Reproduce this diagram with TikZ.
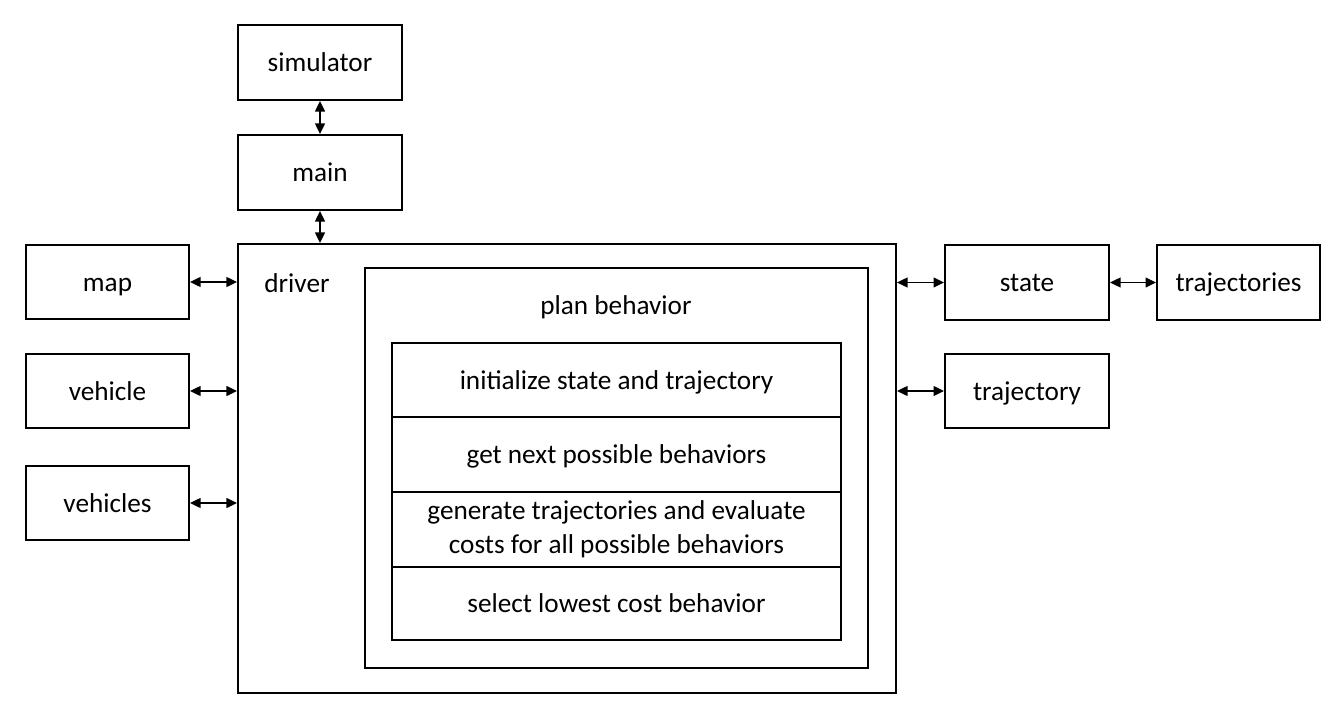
\documentclass[tikz,border=0pt]{standalone}
\usepackage{fontspec}
\setmainfont{Carlito}
\usetikzlibrary{arrows.meta}
\begin{document}
\begin{tikzpicture}[x=0.02cm,y=-0.02cm,
  every node/.style={font=\fontsize{15.5}{19.3}\selectfont},
  fixed/.style={text height=12pt,text depth=1.5pt},
  box/.style 2 args={draw,line width=1.1pt,rectangle,inner sep=0pt,minimum width=#1*0.02cm,minimum height=#2*0.02cm,align=center},
  conn/.style={line width=1.1pt,{Triangle[length=6pt,width=5.5pt]}-{Triangle[length=6pt,width=5.5pt]}}]
\useasboundingbox (0,0) rectangle (1344,719);
\node[box={164}{75},fixed] (sim) at (320,62.5) {simulator};
\node[box={164}{75},fixed] (main) at (320,172.5) {main};
\node[box={658}{449}] (driver) at (567,468.5) {};
\node[fixed] (driverlbl) at (297,283) {driver};
\node[box={163}{74},fixed] (map) at (107.5,282) {map};
\node[box={163}{74},fixed] (vehicle) at (107.5,391) {vehicle};
\node[box={163}{74},fixed] (vehicles) at (107.5,503) {vehicles};
\node[box={164}{75},fixed] (state) at (1027,282.5) {state};
\node[box={163}{75},fixed] (trajs) at (1238.5,282.5) {trajectories};
\node[box={164}{74},fixed] (traj) at (1027,391) {trajectory};
\node[box={503}{400}] (plan) at (616.5,468) {};
\node[fixed] (planlbl) at (616,305.5) {plan behavior};
\node[box={449}{74},fixed] (r1) at (616.5,380) {initialize state and trajectory};
\node[box={449}{75},fixed] (r2) at (616.5,454.5) {get next possible behaviors};
\node[box={449}{75}] (r3) at (616.5,529.5) {\vphantom{Ag}generate trajectories and evaluate\\costs for all possible behaviors\vphantom{A}};
\node[box={449}{73},fixed] (r4) at (616.5,603.5) {select lowest cost behavior};
\draw[conn] (sim.south) -- (main.north);
\draw[conn] (main.south) -- (main.south |- driver.north);
\draw[conn] (map.east) -- (map.east -| driver.west);
\draw[conn] (vehicle.east) -- (vehicle.east -| driver.west);
\draw[conn] (vehicles.east) -- (vehicles.east -| driver.west);
\draw[conn] (state.west) -- (state.west -| driver.east);
\draw[conn] (traj.west) -- (traj.west -| driver.east);
\draw[conn] (state.east) -- (trajs.west);
\end{tikzpicture}
\end{document}
